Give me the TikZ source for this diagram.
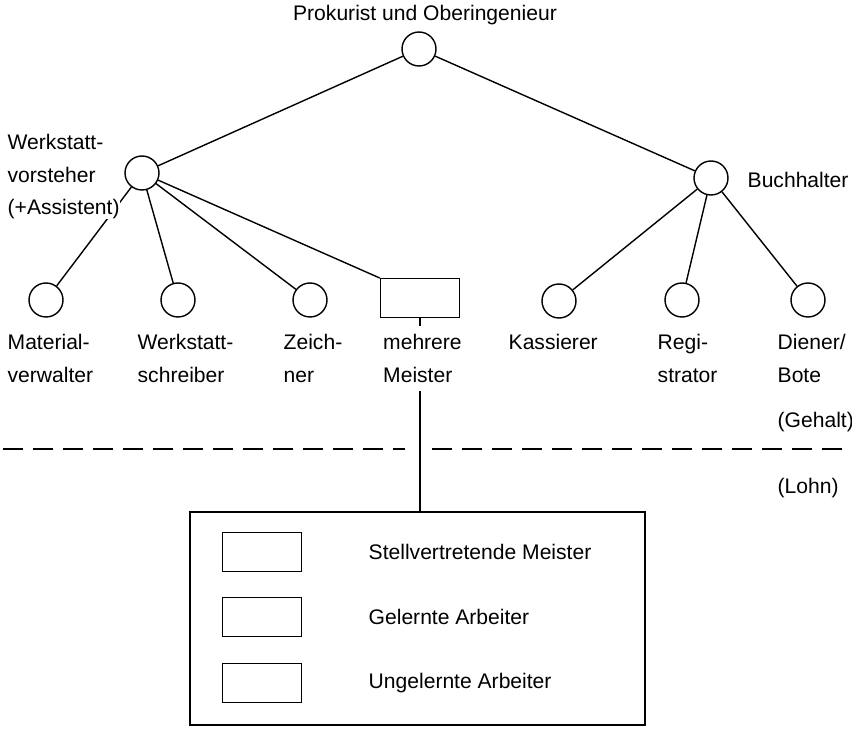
\documentclass[tikz,border=0pt]{standalone}
\usepackage{fontspec}
\setmainfont{Liberation Sans}
\usetikzlibrary{calc,positioning}

\begin{document}
\begin{tikzpicture}[x=0.02cm,y=-0.02cm,line width=0.8pt,
  pers/.style={draw, circle, minimum size=0.68cm, inner sep=0pt},
  kasten/.style={draw, rectangle, minimum width=1.58cm, minimum height=0.77cm, inner sep=0pt},
  lbl/.style={align=left, anchor=north west, inner sep=0pt, font=\fontsize{12pt}{18.5pt}\selectfont},
  trenn/.style={dash pattern=on 0.4cm off 0.2cm, line width=0.7pt}]
\useasboundingbox (0,0) rectangle (852,729);

\node[pers] (prok) at (419,49) {};
\node[pers] (wv) at (142,173) {};
\node[pers] (buch) at (711,178) {};
\node[pers] (mat) at (46,300) {};
\node[pers] (ws) at (178,300) {};
\node[pers] (zei) at (310,300) {};
\node[kasten] (meister) at (420,298) {};
\node[pers] (kas) at (559,301) {};
\node[pers] (reg) at (682,300) {};
\node[pers] (die) at (808,300) {};
\node[draw, minimum width=9.1cm, minimum height=4.26cm, inner sep=0pt] (gruppe) at (417.5,618.5) {};

\draw (prok) -- (wv);
\draw (prok) -- (buch);
\foreach \k in {mat,ws,zei} \draw (wv) -- (\k);
\draw (wv) -- (meister.north west);
\foreach \k in {kas,reg,die} \draw (buch) -- (\k);
\draw (meister.south) -- (meister.south |- gruppe.north);

\draw[trenn] (3,449) -- (405,449);
\draw[trenn] (432,449) -- (850,449);

\node[lbl, anchor=center] (tprok) at (425,15) {Prokurist und Oberingenieur};
\node[lbl, fill=white] (twv) at (7,134) {Werkstatt-\\vorsteher\\(+Assistent)};
\node[lbl, anchor=west] (tbuch) at (747,180) {Buchhalter};
\node[lbl] (tmat) at (7,334) {Material-\\verwalter};
\node[lbl] (tws) at (137,334) {Werkstatt-\\schreiber};
\node[lbl] (tzei) at (283,334) {Zeich-\\ner};
\node[lbl, fill=white, inner xsep=2pt, inner ysep=5pt] (tmeister) at (379,325) {mehrere\\Meister};
\node[lbl] (tkas) at (508,334) {Kassierer};
\node[lbl] (treg) at (657,334) {Regi-\\strator};
\node[lbl] (tdie) at (777,334) {Diener/\\Bote};
\node[lbl, anchor=west] (tgehalt) at (777,422) {(Gehalt)};
\node[lbl, anchor=west] (tlohn) at (777,488) {(Lohn)};

\foreach \y/\t/\n in {552/Stellvertretende Meister/sm, 617/Gelernte Arbeiter/ga, 683/Ungelernte Arbeiter/ua} {
  \node[kasten] (k\n) at (262,\y) {};
  \node[lbl, anchor=west] (t\n) at (368,\y) {\t};
}
\end{tikzpicture}
\end{document}
